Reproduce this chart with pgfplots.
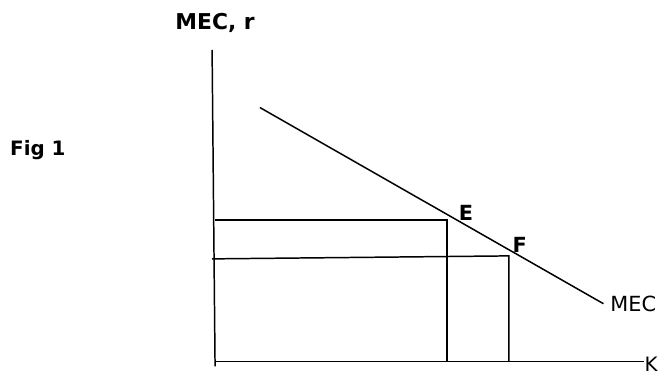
\documentclass[border=0pt]{standalone}
\usepackage{fontspec}
\setmainfont{DejaVu Sans}
\usepackage{pgfplots}
\pgfplotsset{compat=1.18}

\begin{document}
\begin{tikzpicture}
\begin{axis}[
    scale only axis,
    width=661bp, height=378bp,
    xmin=0, xmax=661, ymin=0, ymax=378,
    y dir=reverse,
    axis line style={draw=none},
    ticks=none,
    clip=false,
]
% axes
\addplot[black, line width=1.5pt] coordinates {(213,50) (216,368)};
\addplot[black, line width=1.5pt] coordinates {(217,363) (647,363)};
% MEC curve
\addplot[black, line width=1.5pt] coordinates {(261,108) (606,305)};
% point E
\addplot[black, line width=1.5pt] coordinates {(216,221) (449,221) (449,363)};
% point F
\addplot[black, line width=1.5pt] coordinates {(213,260) (511,257) (511,363)};

\node[font=\fontsize{22}{24}\selectfont\bfseries] at (axis cs:216,23) {MEC, r};
\node[font=\fontsize{20}{24}\selectfont\bfseries] at (axis cs:38,151) {Fig 1};
\node[font=\fontsize{21}{24}\selectfont\bfseries] at (axis cs:468,214) {E};
\node[font=\fontsize{21}{24}\selectfont\bfseries] at (axis cs:522,246) {F};
\node[font=\fontsize{21}{24}\selectfont] at (axis cs:636,305) {MEC};
\node[font=\fontsize{20}{22}\selectfont] at (axis cs:654,366) {K};
\end{axis}
\end{tikzpicture}
\end{document}
